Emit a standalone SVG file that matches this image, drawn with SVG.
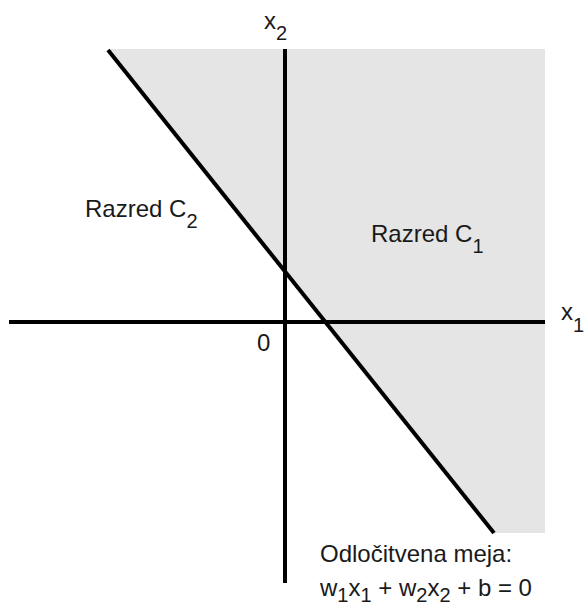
<svg xmlns="http://www.w3.org/2000/svg" width="585" height="607" viewBox="0 0 585 607">
<style>
text{font-family:"Liberation Sans",Arial,sans-serif;fill:#1a1a1a;font-size:24px}
.sub{font-size:20px}
.ax{stroke:#000;stroke-width:4;fill:none}
</style>
<rect width="585" height="607" fill="#fff"/>
<g id="region-c1">
<polygon points="108,49 545,49 545,533 494,533" fill="#e5e5e5"/>
</g>
<g id="axes">
<line class="ax" x1="285" y1="49" x2="285" y2="583"/>
<line class="ax" x1="9" y1="322" x2="545" y2="322"/>
</g>
<g id="boundary">
<line class="ax" x1="108" y1="50" x2="494" y2="533"/>
</g>
<g id="labels">
<text x="264" y="29">x<tspan class="sub" dy="11">2</tspan></text>
<text x="561" y="320">x<tspan class="sub" dy="12">1</tspan></text>
<text x="257" y="351" font-size="22">0</text>
<text x="85" y="217">Razred C<tspan class="sub" dy="11">2</tspan></text>
<text x="371" y="242">Razred C<tspan class="sub" dy="11">1</tspan></text>
<text x="320" y="562" font-size="24">Odločitvena meja:</text>
<text x="320" y="596">w<tspan class="sub" dy="6">1</tspan><tspan dy="-6">x</tspan><tspan class="sub" dy="6">1</tspan><tspan dy="-6"> + w</tspan><tspan class="sub" dy="6">2</tspan><tspan dy="-6">x</tspan><tspan class="sub" dy="6">2</tspan><tspan dy="-6"> + b = 0</tspan></text>
</g>
</svg>
